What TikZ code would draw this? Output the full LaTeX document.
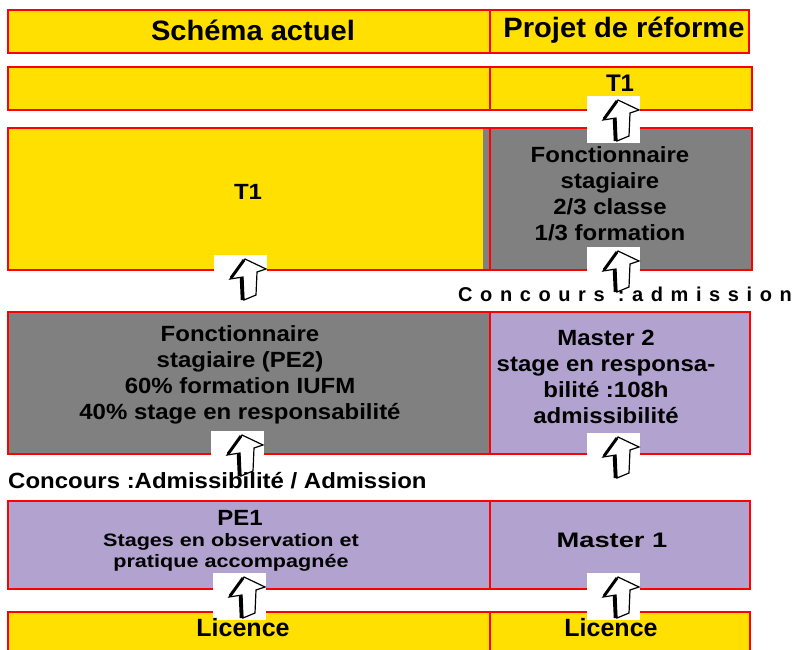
\documentclass[tikz,border=0pt]{standalone}
\usepackage{fontspec}
\setmainfont{Liberation Sans}
\definecolor{cyel}{HTML}{FFE000}
\definecolor{cgray}{HTML}{808080}
\definecolor{cpur}{HTML}{B2A2CF}
\definecolor{cred}{HTML}{FF0000}
\begin{document}
\begin{tikzpicture}[x=1pt,y=-1pt,
  cell/.style={draw=cred,line width=2pt,anchor=north west,inner sep=0pt,outer sep=0pt},
  txt/.style={font=\bfseries\fontsize{22}{26}\selectfont\addfontfeatures{FakeStretch=1.09},align=center,inner sep=0pt},
  big/.style={font=\bfseries\fontsize{28}{30}\selectfont\addfontfeatures{FakeStretch=1.04},inner sep=0pt},
  small/.style={font=\bfseries\fontsize{18}{21}\selectfont\addfontfeatures{FakeStretch=1.2},align=center,inner sep=0pt},
  uparrow/.pic={
    \fill[white] (0,0) rectangle (53,47);
    \draw[black,line width=1.2pt,line join=miter,fill=white]
      (31,4) -- (52,14) -- (43,17) -- (42,40) -- (30,45) -- (29,22) -- (16,24) -- cycle;
    \draw[black,line width=3pt] (17,23) -- (30,5);
    \draw[black,line width=3.5pt] (27.5,23) -- (28.5,45);
  }]
\useasboundingbox (0,0) rectangle (800,649);
% row 1 header
\node[cell,fill=cyel,minimum width=482pt,minimum height=43pt] (h1) at (8,10) {};
\node[cell,fill=cyel,minimum width=259pt,minimum height=43pt] (h2) at (490,10) {};
% row 2
\node[cell,fill=cyel,minimum width=482pt,minimum height=43pt] (r2a) at (8,67) {};
\node[cell,fill=cyel,minimum width=262pt,minimum height=43pt] (r2b) at (490,67) {};
% row 3
\node[cell,fill=cgray,minimum width=482pt,minimum height=142pt] (r3a) at (8,128) {};
\fill[cyel] (9,129) rectangle (483,269);
\node[cell,fill=cgray,minimum width=262pt,minimum height=142pt] (r3b) at (490,128) {};
% row 4
\node[cell,fill=cgray,minimum width=482pt,minimum height=142pt] (r4a) at (8,312) {};
\node[cell,fill=cpur,minimum width=260pt,minimum height=142pt] (r4b) at (490,312) {};
% row 5
\node[cell,fill=cpur,minimum width=482pt,minimum height=88pt] (r5a) at (8,501) {};
\node[cell,fill=cpur,minimum width=260pt,minimum height=88pt] (r5b) at (490,501) {};
% row 6
\node[cell,fill=cyel,minimum width=482pt,minimum height=50pt] (r6a) at (8,612) {};
\node[cell,fill=cyel,minimum width=260pt,minimum height=50pt] (r6b) at (490,612) {};
% arrows
\coordinate (a1) at (587,96);
\coordinate (a2) at (587,247);
\coordinate (a3) at (214,255);
\coordinate (a4) at (211,431);
\coordinate (a5) at (587,433);
\coordinate (a6) at (213,573);
\coordinate (a7) at (587,573);
\foreach \c in {a1,a2,a3,a4,a5,a6,a7} \pic at (\c) {uparrow};
% texts
\node[big] (t1) at (253,30) {Schéma actuel};
\node[big] (t2) at (624,30) {Projet de réforme};
\node[txt,font=\bfseries\fontsize{24}{26}\selectfont] (t3) at (620,83) {T1};
\node[txt] (t4) at (248,192) {T1};
\node[txt] (t5) at (610,194) {Fonctionnaire\\stagiaire\\2/3 classe\\1/3 formation};
\node[txt,anchor=west,font=\bfseries\fontsize{20}{24}\selectfont\addfontfeatures{LetterSpace=38}] (t6) at (458,294) {Concours :admission};
\node[txt] (t7) at (240,375) {Fonctionnaire\\stagiaire (PE2)\\60\% formation IUFM\\40\% stage en responsabilité};
\node[txt] (t8) at (606,377) {Master 2\\stage en responsa-\\bilité :108h\\admissibilité};
\node[txt,anchor=west] (t9) at (8,481) {Concours :Admissibilité / Admission};
\node[txt] (t10) at (240,518) {PE1};
\node[small] (t11) at (231,552) {Stages en observation et\\pratique accompagnée};
\node[txt,font=\bfseries\fontsize{21}{26}\selectfont\addfontfeatures{FakeStretch=1.3}] (t12) at (612,540) {Master 1};
\node[txt,font=\bfseries\fontsize{25}{26}\selectfont] (t13) at (243,628) {Licence};
\node[txt,font=\bfseries\fontsize{25}{26}\selectfont] (t14) at (611,628) {Licence};
\end{tikzpicture}
\end{document}
